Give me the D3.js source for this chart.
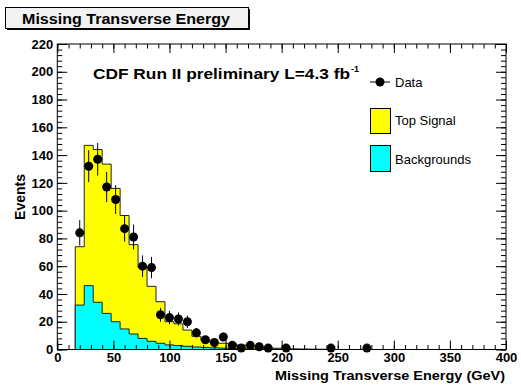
<!DOCTYPE html>
<html><head><meta charset="utf-8">
<script src="https://cdn.jsdelivr.net/npm/d3@7"></script>
<style>
body{margin:0;background:#fff;}
text{font-family:"Liberation Sans",Arial,Helvetica,sans-serif;}
</style></head>
<body>
<svg id="c" width="521" height="385"></svg>
<script>
// ---- data ----
const binWidth = 8;
const binLow = [16,24,32,40,48,56,64,72,80,88,96,104,112,120,128,136,144,152,160,168,176,184,192,200,208,216,224,232,240];
const bgValues = [32,46,34,26,20,14.8,11.2,8,5.9,4.5,3.3,2.8,2.3,1.8,1.5,1.2,1,0.8,0.6,0.5,0.4,0.3,0.3,0.2,0.15,0.1,0.1,0.05,0.05];
const sigValues = [42,101,110,107.5,96,81.7,64.3,51,39.6,29.9,16.7,15.7,11.7,7.7,5,3.8,3.5,3.2,2.6,2.1,1.6,1.0,0.6,0.4,0.25,0.2,0.1,0.1,0.05];
const dataX = [20,28,36,44,52,60,68,76,84,92,100,108,116,124,132,140,148,156,164,172,180,188,204,244,276];
const dataY = [84,132,137,117,108,87,81,60,59,25,23,22,20,12,7,5,9,3,1,3,2,1,1,1,1];
const xTicks = [0,50,100,150,200,250,300,350,400];
const yTicks = [0,20,40,60,80,100,120,140,160,180,200,220];
const legendLabels = ["Data","Top Signal","Backgrounds"];

const svg = d3.select("#c");
const x = d3.scaleLinear().domain([0,400]).range([57.3,506]);
const y = d3.scaleLinear().domain([0,220]).range([349.5,44]);

function histPoints(vals){
  const pts = [[binLow[0],0]];
  vals.forEach((v,i)=>{ pts.push([binLow[i],v]); pts.push([binLow[i]+binWidth,v]); });
  pts.push([binLow[vals.length-1]+binWidth,0]);
  return pts;
}
const totals = sigValues.map((s,i)=>s+bgValues[i]);
const line = d3.line().x(d=>x(d[0])).y(d=>y(d[1]));

svg.append("path").attr("d", line(histPoints(totals))).attr("fill","#ffff00").attr("stroke","#222").attr("stroke-width",1);
svg.append("path").attr("d", line(histPoints(bgValues))).attr("fill","#00ffff").attr("stroke","#222").attr("stroke-width",1);

const g = svg.append("g");
dataX.forEach((cx,i)=>{
  const v = dataY[i], e = Math.sqrt(v);
  g.append("line").attr("x1",x(cx)).attr("x2",x(cx)).attr("y1",y(v-e)).attr("y2",y(v+e)).attr("stroke","#000").attr("stroke-width",1);
  g.append("circle").attr("cx",x(cx)).attr("cy",y(v)).attr("r",4.5).attr("fill","#000");
});

svg.append("rect").attr("x",x(0)).attr("y",y(220)).attr("width",x(400)-x(0)).attr("height",y(0)-y(220))
  .attr("fill","none").attr("stroke","#000").attr("stroke-width",1);

function styleAxis(sel){ sel.select(".domain").remove(); sel.selectAll("line").attr("stroke","#000");
  sel.selectAll("text").attr("font-size","13px").attr("font-weight","bold").attr("fill","#000")
     .style("font-family","'Liberation Sans',Arial,sans-serif"); }

const xMinor = d3.range(0,401,10), yMinor = d3.range(0,221,4);
svg.append("g").attr("transform",`translate(0,${y(0)})`).call(d3.axisBottom(x).tickValues(xTicks).tickSize(-9).tickPadding(3).tickFormat(d3.format("d"))).call(styleAxis);
svg.append("g").attr("transform",`translate(0,${y(0)})`).call(d3.axisBottom(x).tickValues(xMinor).tickSize(-4.5).tickFormat("")).call(styleAxis);
svg.append("g").attr("transform",`translate(0,${y(220)})`).call(d3.axisTop(x).tickValues(xTicks).tickSize(-9).tickFormat("")).call(styleAxis);
svg.append("g").attr("transform",`translate(0,${y(220)})`).call(d3.axisTop(x).tickValues(xMinor).tickSize(-4.5).tickFormat("")).call(styleAxis);
svg.append("g").attr("transform",`translate(${x(0)},0)`).call(d3.axisLeft(y).tickValues(yTicks).tickSize(-10).tickPadding(4).tickFormat(d3.format("d"))).call(styleAxis);
svg.append("g").attr("transform",`translate(${x(0)},0)`).call(d3.axisLeft(y).tickValues(yMinor).tickSize(-5).tickFormat("")).call(styleAxis);
svg.append("g").attr("transform",`translate(${x(400)},0)`).call(d3.axisRight(y).tickValues(yTicks).tickSize(-10).tickFormat("")).call(styleAxis);
svg.append("g").attr("transform",`translate(${x(400)},0)`).call(d3.axisRight(y).tickValues(yMinor).tickSize(-5).tickFormat("")).call(styleAxis);

// axis titles
svg.append("text").attr("x",275).attr("y",380).attr("font-size","13.5px").attr("font-weight","bold")
  .attr("textLength",230).attr("lengthAdjust","spacingAndGlyphs").text("Missing Transverse Energy (GeV)");
svg.append("text").attr("transform","translate(25,197) rotate(-90)").attr("text-anchor","middle").attr("font-size","14px").attr("font-weight","bold").text("Events");

// title box
svg.append("rect").attr("x",7).attr("y",9).attr("width",243).attr("height",21).attr("fill","#000");
svg.append("rect").attr("x",5.5).attr("y",7.5).attr("width",243).attr("height",21).attr("fill","#f2f2f2").attr("stroke","#000").attr("stroke-width",1);
svg.append("text").attr("x",22).attr("y",23.5).attr("font-size","14.5px").attr("font-weight","bold")
  .attr("textLength",208).attr("lengthAdjust","spacingAndGlyphs").text("Missing Transverse Energy");

// CDF label
svg.append("text").attr("x",93).attr("y",78.5).attr("font-size","14.5px").attr("font-weight","bold")
  .attr("textLength",257).attr("lengthAdjust","spacingAndGlyphs").text("CDF Run II preliminary L=4.3 fb");
svg.append("text").attr("x",351).attr("y",72).attr("font-size","9px").attr("font-weight","bold").text("-1");

// legend
svg.append("line").attr("x1",370).attr("x2",390).attr("y1",82).attr("y2",82).attr("stroke","#000");
svg.append("circle").attr("cx",380).attr("cy",82).attr("r",4.5).attr("fill","#000");
svg.append("text").attr("x",395).attr("y",86.5).attr("font-size","13px").text(legendLabels[0]);
svg.append("rect").attr("x",370.5).attr("y",108.5).attr("width",20).attr("height",25).attr("fill","#ffff00").attr("stroke","#000");
svg.append("text").attr("x",395).attr("y",124.5).attr("font-size","13px").text(legendLabels[1]);
svg.append("rect").attr("x",370.5).attr("y",145.5).attr("width",20).attr("height",26).attr("fill","#00ffff").attr("stroke","#000");
svg.append("text").attr("x",395).attr("y",163.5).attr("font-size","13px").text(legendLabels[2]);
</script>
</body></html>
